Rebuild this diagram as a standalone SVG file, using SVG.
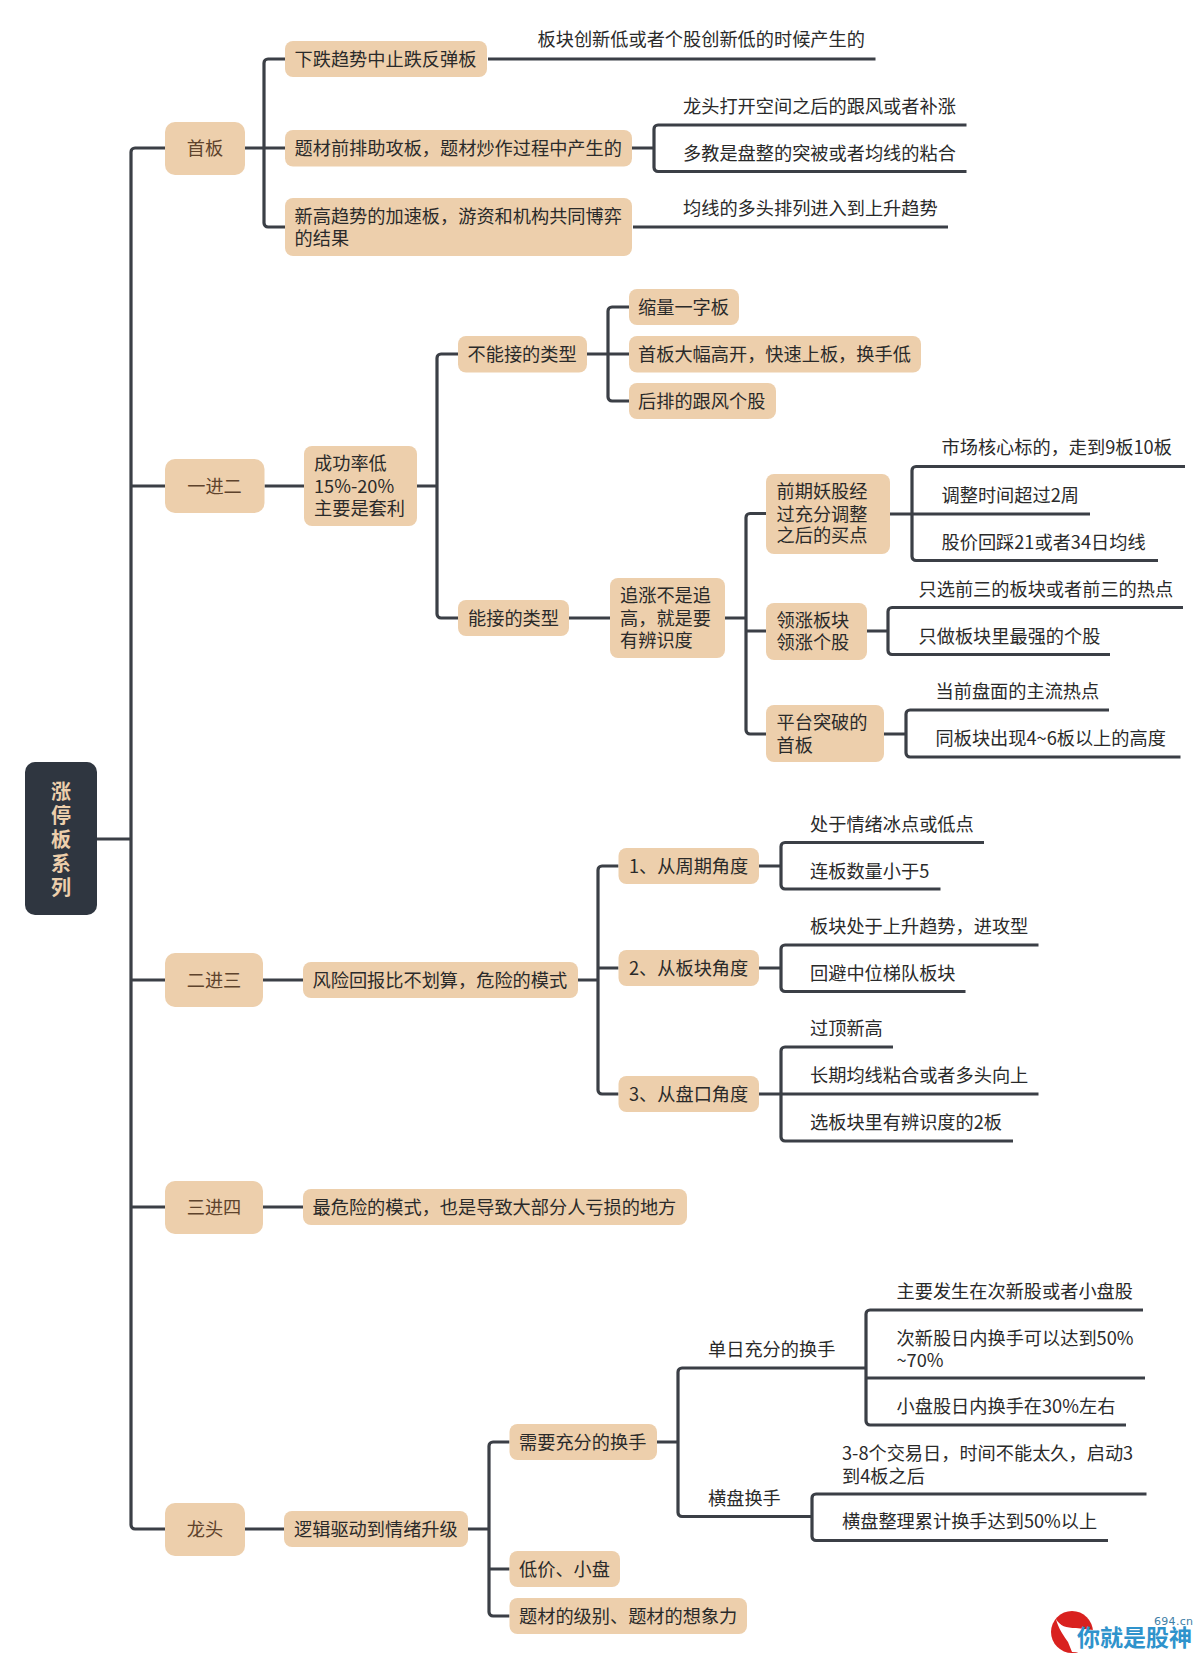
<svg xmlns="http://www.w3.org/2000/svg" width="1200" height="1655" viewBox="0 0 1200 1655">
<style>
text{font-family:"Noto Sans CJK SC","Noto Sans",sans-serif;font-size:18.2px;fill:#2a2a2a}
.n{fill:#edcfac}
.r{fill:#2f3640}
.l1{fill:#5e432c;text-anchor:middle}
.rt{fill:#edcfac;font-weight:700;font-size:20px;text-anchor:middle}
#connectors path{fill:none;stroke:#3b3f46;stroke-width:3.2}
</style>
<rect width="1200" height="1655" fill="#fff"/>
<g id="connectors">
<path d="M97 839H131"/>
<path d="M165 148H135a4 4 0 0 0-4 4V1525a4 4 0 0 0 4 4H165M131 486H165M131 980H165M131 1207H165"/>
<path d="M245 148H285M285 59H268a4 4 0 0 0-4 4V223a4 4 0 0 0 4 4H285"/>
<path d="M488 59H875.500"/>
<path d="M632 148H654M966.500 125H658a4 4 0 0 0-4 4V167.500a4 4 0 0 0 4 4H966.500"/>
<path d="M633 227H948"/>
<path d="M264.500 486H304M417 486H437M458 354H441a4 4 0 0 0-4 4V614a4 4 0 0 0 4 4H458"/>
<path d="M587 354H629M629 307H612a4 4 0 0 0-4 4V397a4 4 0 0 0 4 4H629"/>
<path d="M568 618H610M725 618H746M766 513.500H750a4 4 0 0 0-4 4V730a4 4 0 0 0 4 4H766M746 631H766"/>
<path d="M890 514H1090M1185 466.500H916a4 4 0 0 0-4 4V556.500a4 4 0 0 0 4 4H1158"/>
<path d="M867 631H888M1183 607.500H892a4 4 0 0 0-4 4V650.500a4 4 0 0 0 4 4H1110"/>
<path d="M884 734H906M1109 710H910a4 4 0 0 0-4 4V753a4 4 0 0 0 4 4H1180.500"/>
<path d="M263 980H303M577 980H598M618.500 866H602a4 4 0 0 0-4 4V1090a4 4 0 0 0 4 4H618.500M598 968H618.500"/>
<path d="M759 866H781M984 842.500H785a4 4 0 0 0-4 4V885a4 4 0 0 0 4 4H940.500"/>
<path d="M759 968H781M1038.500 945H785a4 4 0 0 0-4 4V987.500a4 4 0 0 0 4 4H965.500"/>
<path d="M759 1094H1038.500M893 1047H785a4 4 0 0 0-4 4V1137a4 4 0 0 0 4 4H1013"/>
<path d="M263 1207H303"/>
<path d="M245 1529H284M468 1529H489M509.500 1442H493a4 4 0 0 0-4 4V1612a4 4 0 0 0 4 4H509.500M489 1569H509.500"/>
<path d="M657 1442H678M866 1368H682a4 4 0 0 0-4 4V1512.500a4 4 0 0 0 4 4H812M1143 1310H870a4 4 0 0 0-4 4V1421a4 4 0 0 0 4 4H1126M866 1378H1145"/>
<path d="M1146.500 1494H816a4 4 0 0 0-4 4V1536.500a4 4 0 0 0 4 4H1108"/>
</g>
<g id="root"><rect class="r" x="25" y="762" width="72" height="153" rx="10"/><text class="rt" x="61" y="799">涨</text><text class="rt" x="61" y="823">停</text><text class="rt" x="61" y="847">板</text><text class="rt" x="61" y="871">系</text><text class="rt" x="61" y="895">列</text></g>
<g id="n-shouban"><rect class="n" x="165" y="122" width="80" height="53" rx="10"/><text class="l1" x="205" y="154.500">首板</text></g>
<g id="n-xiadie"><rect class="n" x="285" y="41" width="202" height="36" rx="8"/><text x="294.500" y="65.500">下跌趋势中止跌反弹板</text></g>
<g id="t-xiadie"><text x="537.500" y="46">板块创新低或者个股创新低的时候产生的</text></g>
<g id="n-ticai"><rect class="n" x="285" y="130" width="347" height="36.500" rx="8"/><text x="294.500" y="154.500">题材前排助攻板，题材炒作过程中产生的</text></g>
<g id="t-longtou1"><text x="683" y="112.500">龙头打开空间之后的跟风或者补涨</text></g>
<g id="t-duojiao"><text x="683" y="160">多教是盘整的突被或者均线的粘合</text></g>
<g id="n-xingao"><rect class="n" x="285" y="198" width="347" height="58" rx="8"/><text x="294.500" y="222.500">新高趋势的加速板，游资和机构共同博弈</text><text x="294.500" y="244.500">的结果</text></g>
<g id="t-junxian"><text x="683" y="215">均线的多头排列进入到上升趋势</text></g>
<g id="n-yijiner"><rect class="n" x="165" y="459" width="99.500" height="54" rx="10"/><text class="l1" x="214.500" y="492.500">一进二</text></g>
<g id="n-chenggong"><rect class="n" x="304" y="446" width="113" height="80" rx="8"/><text x="314" y="470">成功率低</text><text x="314" y="492.500">15%-20%</text><text x="314" y="515">主要是套利</text></g>
<g id="n-buneng"><rect class="n" x="458" y="336" width="129" height="36.500" rx="8"/><text x="467.500" y="360.500">不能接的类型</text></g>
<g id="n-suoliang"><rect class="n" x="629" y="289" width="110" height="36" rx="8"/><text x="638" y="313.500">缩量一字板</text></g>
<g id="n-daofu"><rect class="n" x="629" y="336" width="292" height="36.500" rx="8"/><text x="638" y="360.500">首板大幅高开，快速上板，换手低</text></g>
<g id="n-houpai"><rect class="n" x="629" y="383" width="147" height="36" rx="8"/><text x="638" y="407.500">后排的跟风个股</text></g>
<g id="n-neng"><rect class="n" x="458" y="600" width="111" height="36" rx="8"/><text x="468" y="624.500">能接的类型</text></g>
<g id="n-zhuizhang"><rect class="n" x="610" y="578" width="115" height="80" rx="8"/><text x="620" y="602">追涨不是追</text><text x="620" y="624.500">高，就是要</text><text x="620" y="646.500">有辨识度</text></g>
<g id="n-qianqi"><rect class="n" x="766" y="474" width="124" height="80" rx="8"/><text x="776.500" y="498">前期妖股经</text><text x="776.500" y="520.500">过充分调整</text><text x="776.500" y="541.500">之后的买点</text></g>
<g id="t-a1"><text x="941.500" y="454">市场核心标的，走到9板10板</text></g>
<g id="t-a2"><text x="941.500" y="501.500">调整时间超过2周</text></g>
<g id="t-a3"><text x="941.500" y="548.500">股价回踩21或者34日均线</text></g>
<g id="n-lingzhang"><rect class="n" x="766" y="603" width="101" height="57" rx="8"/><text x="776.500" y="626.500">领涨板块</text><text x="776.500" y="648.500">领涨个股</text></g>
<g id="t-b1"><text x="918.500" y="595.500">只选前三的板块或者前三的热点</text></g>
<g id="t-b2"><text x="918.500" y="642.500">只做板块里最强的个股</text></g>
<g id="n-pingtai"><rect class="n" x="766" y="705" width="118" height="57" rx="8"/><text x="776.500" y="728.500">平台突破的</text><text x="776.500" y="751.500">首板</text></g>
<g id="t-c1"><text x="935.500" y="697.500">当前盘面的主流热点</text></g>
<g id="t-c2"><text x="935.500" y="744.500">同板块出现4~6板以上的高度</text></g>
<g id="n-erjinsan"><rect class="n" x="165" y="953" width="98" height="54" rx="10"/><text class="l1" x="214" y="986.500">二进三</text></g>
<g id="n-fengxian"><rect class="n" x="303" y="962" width="275" height="36" rx="8"/><text x="312.500" y="986.500">风险回报比不划算，危险的模式</text></g>
<g id="n-zhouqi"><rect class="n" x="618.500" y="848" width="140.500" height="36" rx="8"/><text x="629" y="872.500">1、从周期角度</text></g>
<g id="t-d1"><text x="810" y="830.500">处于情绪冰点或低点</text></g>
<g id="t-d2"><text x="810" y="877.500">连板数量小于5</text></g>
<g id="n-bankuai"><rect class="n" x="618.500" y="950" width="140.500" height="36" rx="8"/><text x="629" y="974.500">2、从板块角度</text></g>
<g id="t-e1"><text x="810" y="932.500">板块处于上升趋势，进攻型</text></g>
<g id="t-e2"><text x="810" y="979.500">回避中位梯队板块</text></g>
<g id="n-pankou"><rect class="n" x="618.500" y="1076" width="140.500" height="36" rx="8"/><text x="629" y="1100.500">3、从盘口角度</text></g>
<g id="t-f1"><text x="810" y="1035">过顶新高</text></g>
<g id="t-f2"><text x="810" y="1082">长期均线粘合或者多头向上</text></g>
<g id="t-f3"><text x="810" y="1128.500">选板块里有辨识度的2板</text></g>
<g id="n-sanjinsi"><rect class="n" x="165" y="1181" width="98" height="53" rx="10"/><text class="l1" x="214" y="1213.500">三进四</text></g>
<g id="n-weixian"><rect class="n" x="303" y="1189" width="384" height="36" rx="8"/><text x="312.500" y="1213.500">最危险的模式，也是导致大部分人亏损的地方</text></g>
<g id="n-longtou"><rect class="n" x="165" y="1503" width="80" height="53" rx="10"/><text class="l1" x="205" y="1535.500">龙头</text></g>
<g id="n-luoji"><rect class="n" x="284" y="1511" width="184" height="36" rx="8"/><text x="294" y="1535.500">逻辑驱动到情绪升级</text></g>
<g id="n-xuyao"><rect class="n" x="509.500" y="1424" width="147.500" height="36" rx="8"/><text x="519" y="1448.500">需要充分的换手</text></g>
<g id="t-danri"><text x="708" y="1355.500">单日充分的换手</text></g>
<g id="t-g1"><text x="896.500" y="1298">主要发生在次新股或者小盘股</text></g>
<g id="t-g2"><text x="896.500" y="1344.500">次新股日内换手可以达到50%</text><text x="896.500" y="1367">~70%</text></g>
<g id="t-g3"><text x="896.500" y="1413">小盘股日内换手在30%左右</text></g>
<g id="t-hengpan"><text x="708" y="1504.500">横盘换手</text></g>
<g id="t-h1"><text x="842" y="1459.500">3-8个交易日，时间不能太久，启动3</text><text x="842" y="1482.500">到4板之后</text></g>
<g id="t-h2"><text x="842" y="1528">横盘整理累计换手达到50%以上</text></g>
<g id="n-dijia"><rect class="n" x="509.500" y="1551" width="110.500" height="36" rx="8"/><text x="519" y="1575.500">低价、小盘</text></g>
<g id="n-jibie"><rect class="n" x="509.500" y="1598" width="237.500" height="36" rx="8"/><text x="519" y="1622.500">题材的级别、题材的想象力</text></g>
<g id="watermark">
<circle cx="1072" cy="1632" r="21" fill="#d9211f"/>
<path d="M1056 1619C1060 1626 1066 1628 1076 1628L1093 1630 1094 1652H1072L1068 1642C1064 1636 1058 1628 1056 1619Z" fill="#fff"/>
<text x="1077" y="1646" style="font-size:23px;font-weight:700;fill:#2f93cc">你就是股神</text>
<text x="1154" y="1624.500" style="font-size:11px;letter-spacing:.3px;fill:#3d7ea6;font-family:'DejaVu Sans',sans-serif">694.cn</text>
</g>
</svg>
